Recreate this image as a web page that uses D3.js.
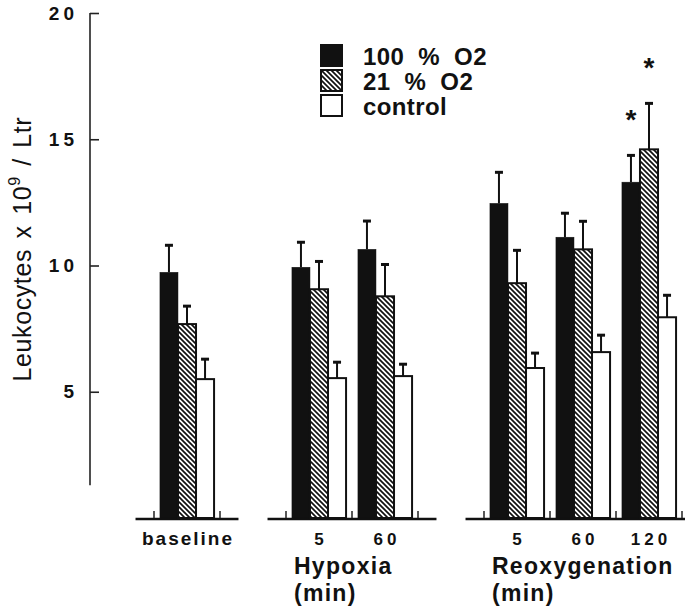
<!DOCTYPE html>
<html><head><meta charset="utf-8">
<script src="https://cdn.jsdelivr.net/npm/d3@7"></script>
<style>body{margin:0;background:#fff} svg{display:block} text{font-family:"Liberation Sans", Arial, Helvetica, sans-serif;fill:#111}</style>
</head><body>
<svg id="chart" width="685" height="613"></svg>
<script>
// ---- data ----
const categories = ["baseline", "H5", "H60", "R5", "R60", "R120"];
const slots = ["baseline", "gap1", "H5", "H60", "gap2", "R5", "R60", "R120"];
const categoryLabels = ["baseline", "5", "60", "5", "60", "120"];
const seriesNames = ["100 % O2", "21 % O2", "control"];
const o2_100 = [9.73, 9.93, 10.64, 12.46, 11.12, 13.30];
const o2_100_sem = [1.11, 1.03, 1.16, 1.27, 0.99, 1.10];
const o2_21 = [7.68, 9.06, 8.78, 9.30, 10.64, 14.60];
const o2_21_sem = [0.75, 1.14, 1.30, 1.34, 1.15, 1.86];
const control = [5.50, 5.54, 5.62, 5.94, 6.57, 7.95];
const control_sem = [0.83, 0.67, 0.51, 0.63, 0.71, 0.91];
const yTicks = [5, 10, 15, 20];
const panelNames = ["", "Hypoxia", "Reoxygenation"];
const panelCats = [["baseline"], ["H5", "H60"], ["R5", "R60", "R120"]];
const significant = [["R120", 0], ["R120", 1]];

const seriesValues = [o2_100, o2_21, control];
const seriesSem = [o2_100_sem, o2_21_sem, control_sem];

// ---- layout ----
const svg = d3.select("#chart");
const defs = svg.append("defs");
defs.append("pattern").attr("id", "hatch").attr("patternUnits", "userSpaceOnUse")
  .attr("width", 5).attr("height", 5)
  .call(p => {
    p.append("rect").attr("width", 5).attr("height", 5).attr("fill", "#fff");
    p.append("path").attr("d", "M0,0L5,5M-1,4L1,6M4,-1L6,1")
      .attr("stroke", "#111").attr("stroke-width", 1.7);
  });
const fills = ["#111", "url(#hatch)", "#fff"];

const y = d3.scaleLinear().domain([0, 20]).range([518, 13]);
const x = d3.scalePoint().domain(slots).range([187, 649]);
const step = x.step();
const groupW = step * 0.82;
const xs = d3.scaleBand().domain(d3.range(seriesNames.length)).range([-groupW / 2, groupW / 2]);

// y axis
const axisX = 90;
const gy = svg.append("g").attr("transform", `translate(${axisX},0)`)
  .call(d3.axisLeft(y).tickValues(yTicks).tickSizeInner(-9).tickSizeOuter(0).tickPadding(12));
gy.select(".domain").remove();
gy.selectAll(".tick line").attr("stroke", "#222").attr("stroke-width", 1.6);
gy.selectAll(".tick text")
  .style("font-size", "19px").style("font-weight", "bold")
  .style("letter-spacing", "4px").style("fill", "#111")
  .style("font-family", '"Liberation Sans", Arial, sans-serif');
gy.append("line").attr("x1", 0).attr("x2", 0).attr("y1", y(20)).attr("y2", y(1.3))
  .attr("stroke", "#222").attr("stroke-width", 1.6);

// y title
const yt = svg.append("text").attr("transform", `translate(31,${(y(20) + y(1.3)) / 2}) rotate(-90)`)
  .attr("text-anchor", "middle").style("font-size", "25px").style("letter-spacing", "0.6px").style("word-spacing", "3px");
yt.append("tspan").text("Leukocytes x 10");
yt.append("tspan").style("font-size", "16px").attr("dy", -11).text("9");
yt.append("tspan").attr("dy", 11).text(" / Ltr");

// panel baselines + small ticks
panelCats.forEach((cats, pi) => {
  const x1 = x(cats[0]) - step * 0.78;
  const x2 = x(cats[cats.length - 1]) + step * 0.78;
  svg.append("line").attr("x1", x1).attr("x2", x2).attr("y1", y(0) + 1).attr("y2", y(0) + 1)
    .attr("stroke", "#111").attr("stroke-width", 2.5);
  const tickPos = [x(cats[0]) - step / 2].concat(cats.map(c => x(c) + step / 2));
  svg.selectAll(null).data(tickPos).enter().append("line")
    .attr("x1", d => d).attr("x2", d => d).attr("y1", y(0)).attr("y2", y(0) - 7)
    .attr("stroke", "#222").attr("stroke-width", 1.5);
  if (panelNames[pi]) {
    const tx = x(cats[0]) - groupW / 2 + 2;
    svg.append("text").attr("x", tx).attr("y", 574).style("font-size", "23px").style("font-weight", "bold")
      .style("letter-spacing", "1.3px").text(panelNames[pi]);
    svg.append("text").attr("x", tx).attr("y", 601).style("font-size", "23px").style("font-weight", "bold")
      .style("letter-spacing", "1.3px").text("(min)");
  }
});

// bars
categories.forEach((cat, ci) => {
  const g = svg.append("g").attr("transform", `translate(${x(cat)},0)`);
  seriesNames.forEach((s, si) => {
    const v = seriesValues[si][ci], e = seriesSem[si][ci];
    const bx = xs(si), bw = xs.bandwidth();
    const cx = bx + bw / 2;
    g.append("line").attr("x1", cx).attr("x2", cx).attr("y1", y(v)).attr("y2", y(v + e))
      .attr("stroke", "#111").attr("stroke-width", 2);
    g.append("line").attr("x1", cx - 4).attr("x2", cx + 4).attr("y1", y(v + e) + 1).attr("y2", y(v + e) + 1)
      .attr("stroke", "#111").attr("stroke-width", 3);
    g.append("rect").attr("x", bx).attr("width", bw).attr("y", y(v)).attr("height", y(0) - y(v))
      .attr("fill", fills[si]).attr("stroke", "#111").attr("stroke-width", si === 0 ? 0.5 : 2);
  });
  const lbl = categoryLabels[ci];
  const isWord = lbl === "baseline";
  const ls = isWord ? 2 : 4;
  g.append("text").attr("x", ls / 2).attr("y", 545).attr("text-anchor", "middle")
    .style("font-size", isWord ? "19px" : "17px").style("font-weight", "bold").style("letter-spacing", ls + "px").text(lbl);
});

// significance stars
significant.forEach(([cat, si]) => {
  const ci = categories.indexOf(cat);
  const v = seriesValues[si][ci] + seriesSem[si][ci];
  svg.append("text").attr("x", x(cat) + xs(si) + xs.bandwidth() / 2).attr("y", y(v) - 40 + 15)
    .attr("text-anchor", "middle").style("font-size", "28px").style("font-weight", "bold").text("*");
});

// legend
const lg = svg.append("g").attr("transform", "translate(320,44)");
seriesNames.forEach((s, si) => {
  lg.append("rect").attr("x", 1).attr("y", si * 25 + 1).attr("width", 21).attr("height", 21)
    .attr("fill", fills[si]).attr("stroke", "#111").attr("stroke-width", 2);
  lg.append("text").attr("x", 43).attr("y", si * 25 + 21).style("font-size", "24px").style("font-weight", "bold")
    .style("letter-spacing", "0.4px").style("word-spacing", "7px").text(s);
});
</script>
</body></html>
